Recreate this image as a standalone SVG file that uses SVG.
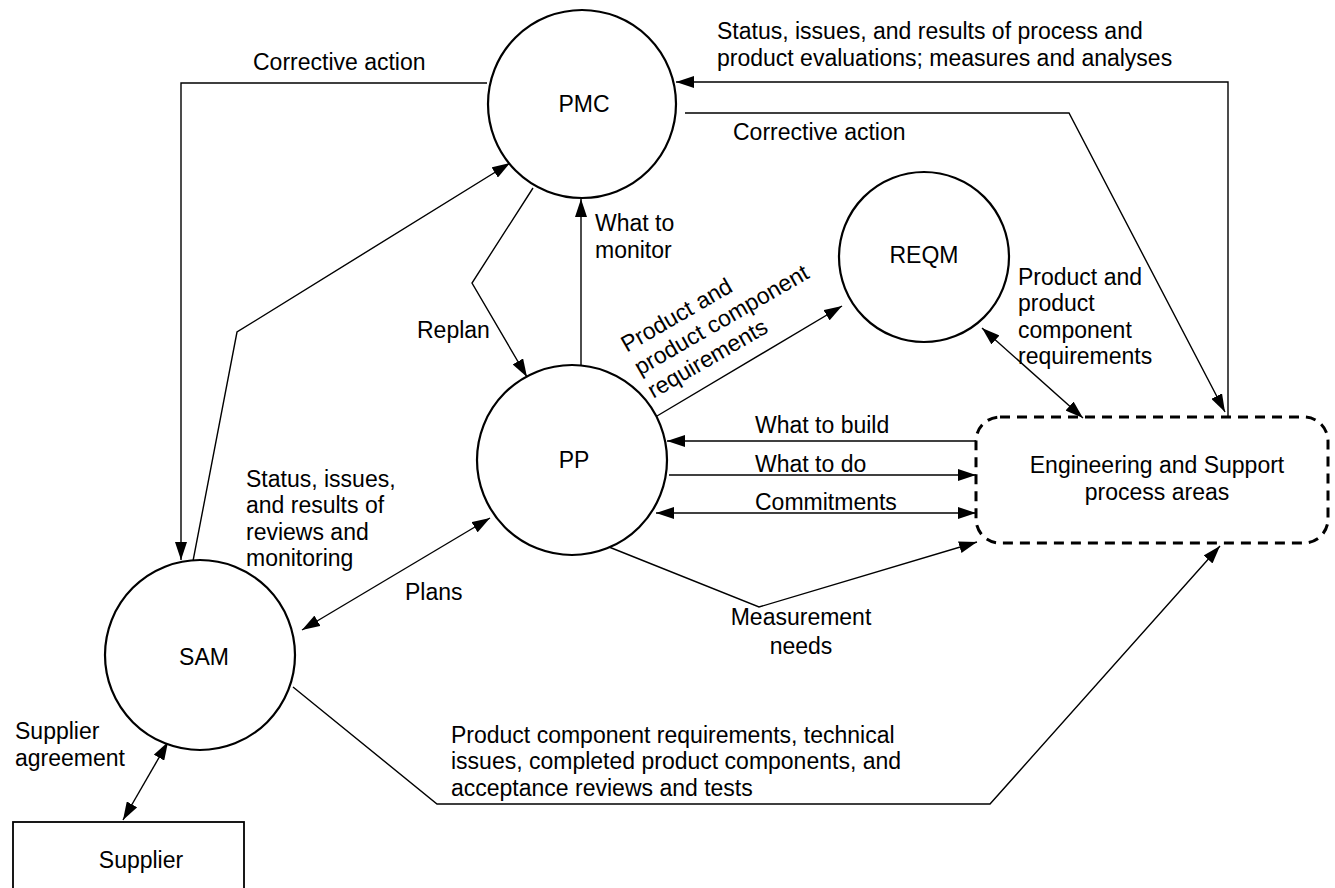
<svg xmlns="http://www.w3.org/2000/svg" width="1335" height="888" viewBox="0 0 1335 888">
<defs>
<style>
text{font-family:"Liberation Sans",Arial,sans-serif;font-size:23px;fill:#000}
.c{fill:#fff;stroke:#000;stroke-width:2.2}
.m{text-anchor:middle}
.cn path{fill:none;stroke:#000;stroke-width:1.4}
.e{marker-end:url(#ah)}
.b{marker-end:url(#ah);marker-start:url(#ahs)}
</style>
<marker id="ah" markerUnits="userSpaceOnUse" markerWidth="18" markerHeight="12" refX="18" refY="6" orient="auto"><path d="M0,0 L18,6 L0,12 z" fill="#000"/></marker>
<marker id="ahs" markerUnits="userSpaceOnUse" markerWidth="18" markerHeight="12" refX="18" refY="6" orient="auto-start-reverse"><path d="M0,0 L18,6 L0,12 z" fill="#000"/></marker>
</defs>
<rect width="1335" height="888" fill="#fff"/>
<g id="connectors" class="cn">
<path class="e" d="M487,83 H181 V560"/>
<path class="e" d="M193,561 L237,332 L510,163"/>
<path class="e" d="M533,188 L472,283 L527,377"/>
<path class="e" d="M581,365 V199"/>
<path class="e" d="M1228,417 V82 H676"/>
<path class="e" d="M685,113 H1069 L1225,412"/>
<path class="e" d="M657,416 L842,306"/>
<path class="b" d="M982,328 L1083,418"/>
<path class="e" d="M976,441 H667"/>
<path class="e" d="M669,475 H976"/>
<path class="b" d="M656,513 H976"/>
<path class="e" d="M609,547 L759,607 L977,542"/>
<path class="b" d="M302,630 L490,518"/>
<path class="e" d="M293,687 L437,804 H990 L1220,546"/>
<path class="b" d="M168,742 L123,820"/>
</g>
<g id="labels">
<text x="253" y="70">Corrective action</text>
<text x="717" y="39"><tspan x="717" y="39">Status, issues, and results of process and</tspan><tspan x="717" y="65.5">product evaluations; measures and analyses</tspan></text>
<text x="733" y="140">Corrective action</text>
<text x="595" y="231"><tspan x="595" y="231">What to</tspan><tspan x="595" y="257.5">monitor</tspan></text>
<text x="1018" y="284"><tspan x="1018" y="284.5">Product and</tspan><tspan x="1018" y="311">product</tspan><tspan x="1018" y="337.5">component</tspan><tspan x="1018" y="364">requirements</tspan></text>
<text x="417" y="338">Replan</text>
<text transform="translate(628,355) rotate(-30)"><tspan x="0" y="-2.5">Product and</tspan><tspan x="0" y="24">product component</tspan><tspan x="0" y="50.5">requirements</tspan></text>
<text x="755" y="433">What to build</text>
<text x="755" y="472">What to do</text>
<text x="755" y="510">Commitments</text>
<text x="246" y="486"><tspan x="246" y="486.5">Status, issues,</tspan><tspan x="246" y="513">and results of</tspan><tspan x="246" y="539.5">reviews and</tspan><tspan x="246" y="566">monitoring</tspan></text>
<text x="405" y="600">Plans</text>
<text class="m" x="801" y="625"><tspan x="801" y="625">Measurement</tspan><tspan x="801" y="654">needs</tspan></text>
<text x="15" y="739"><tspan x="15" y="739">Supplier</tspan><tspan x="15" y="765.5">agreement</tspan></text>
<text x="451" y="742.5"><tspan x="451" y="742.5">Product component requirements, technical</tspan><tspan x="451" y="769">issues, completed product components, and</tspan><tspan x="451" y="795.5">acceptance reviews and tests</tspan></text>
</g>
<g id="PMC"><circle class="c" cx="582" cy="104" r="94"/><text class="m" x="584" y="112">PMC</text></g>
<g id="REQM"><circle class="c" cx="924" cy="257" r="85"/><text class="m" x="924" y="263">REQM</text></g>
<g id="PP"><circle class="c" cx="572" cy="460" r="95"/><text class="m" x="574" y="468">PP</text></g>
<g id="SAM"><circle class="c" cx="200" cy="655" r="95"/><text class="m" x="204" y="665">SAM</text></g>
<g id="Supplier"><rect x="13" y="822" width="231" height="80" fill="#fff" stroke="#000" stroke-width="1.8"/><text class="m" x="141" y="868">Supplier</text></g>
<g id="Engineering"><rect x="976" y="417" width="352" height="126" rx="24" fill="none" stroke="#000" stroke-width="3" stroke-dasharray="10,7"/><text class="m" x="1157" y="473"><tspan x="1157" y="473">Engineering and Support</tspan><tspan x="1157" y="499.5">process areas</tspan></text></g>
</svg>
